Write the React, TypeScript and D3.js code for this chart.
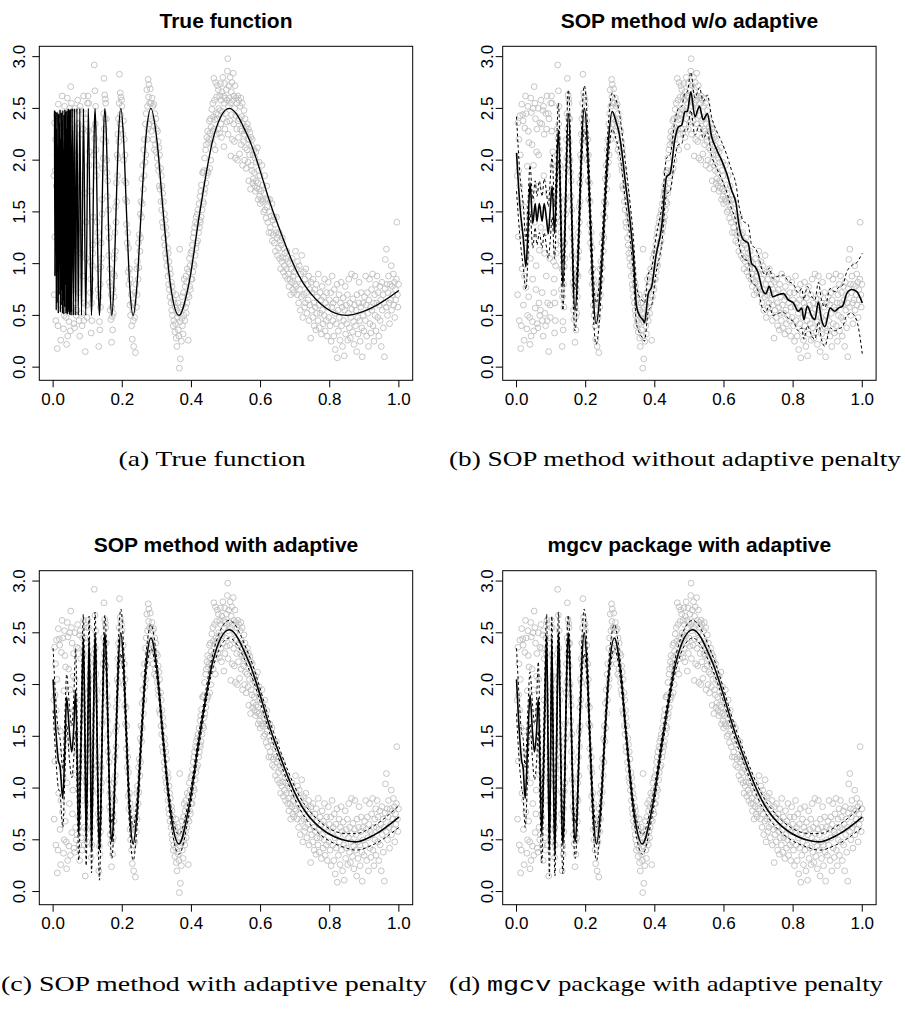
import React from 'react'
import * as d3 from 'd3'

// observed data (same sample in all four panels)
const obs: [number, number][] = [
  [0.002,1.85],[0.003,0.70],[0.004,2.36],[0.005,1.26],[0.006,1.90],[0.007,2.20],[0.008,0.45],[0.009,1.75],[0.010,2.43],[0.011,2.05],
  [0.012,0.18],[0.013,1.58],[0.014,0.40],[0.015,2.54],[0.016,0.95],[0.017,1.35],[0.018,2.44],[0.019,2.38],[0.020,0.60],[0.021,1.55],
  [0.022,0.26],[0.023,0.88],[0.024,2.31],[0.025,1.20],[0.026,2.62],[0.027,0.77],[0.028,2.45],[0.029,1.10],[0.030,0.37],[0.031,1.94],
  [0.032,0.50],[0.033,2.52],[0.034,2.28],[0.035,0.68],[0.036,2.17],[0.037,1.48],[0.038,0.48],[0.039,0.22],[0.040,1.05],[0.041,2.60],
  [0.042,0.30],[0.043,2.46],[0.044,1.62],[0.045,2.15],[0.046,0.44],[0.047,0.85],[0.048,2.50],[0.049,1.95],[0.050,0.35],[0.051,2.71],
  [0.052,1.40],[0.053,2.55],[0.054,0.57],[0.055,2.40],[0.056,0.75],[0.057,0.98],[0.058,2.08],[0.059,2.30],[0.060,0.42],[0.061,1.75],
  [0.062,0.38],[0.063,2.50],[0.064,2.05],[0.065,0.62],[0.066,1.13],[0.067,0.50],[0.068,2.36],[0.069,0.55],[0.070,1.35],[0.071,2.58],
  [0.072,1.52],[0.073,2.35],[0.074,0.72],[0.075,0.45],[0.076,2.48],[0.077,0.30],[0.078,2.52],[0.079,1.85],[0.080,2.25],[0.081,1.10],
  [0.082,0.52],[0.083,1.30],[0.084,0.40],[0.085,2.45],[0.086,0.88],[0.087,2.30],[0.088,2.62],[0.089,0.45],[0.090,0.62],[0.091,1.68],
  [0.092,2.45],[0.093,0.15],[0.094,2.40],[0.095,1.40],[0.096,1.05],[0.097,0.60],[0.098,0.48],[0.099,2.55],
  [0.101,2.62],[0.102,2.28],[0.103,2.55],[0.104,1.95],[0.105,2.08],[0.106,1.70],[0.107,1.02],[0.108,0.72],[0.109,0.85],[0.110,0.33],
  [0.111,0.62],[0.112,0.45],[0.113,0.98],[0.114,1.18],[0.115,1.10],[0.116,1.45],[0.117,2.05],[0.118,2.30],[0.119,2.92],[0.120,2.21],
  [0.121,2.67],[0.122,2.35],[0.123,2.52],[0.124,2.10],[0.125,1.85],[0.126,1.95],[0.127,1.40],[0.128,1.22],[0.129,1.30],[0.130,0.75],
  [0.131,0.95],[0.132,0.20],[0.133,0.68],[0.134,0.44],[0.135,0.36],[0.136,0.80],[0.137,0.58],[0.138,0.97],[0.139,1.20],[0.140,1.05],
  [0.141,1.62],[0.142,1.48],[0.143,1.92],[0.144,2.20],[0.145,2.02],[0.146,2.45],[0.147,2.79],[0.148,2.30],[0.149,2.63],[0.150,2.40],
  [0.151,2.59],[0.152,2.55],[0.153,2.18],[0.154,2.40],[0.155,2.00],[0.156,1.88],[0.157,1.65],[0.158,1.80],[0.159,1.35],[0.160,1.52],
  [0.161,1.08],[0.162,1.25],[0.163,0.82],[0.164,0.95],[0.165,0.55],[0.166,0.78],[0.167,0.46],[0.168,0.70],[0.169,0.24],[0.170,0.58],
  [0.171,0.49],[0.172,0.36],[0.173,0.75],[0.174,0.52],[0.175,0.90],[0.176,0.68],[0.177,1.05],[0.178,0.88],[0.179,1.30],[0.180,1.12],
  [0.181,1.55],[0.182,1.40],[0.183,1.78],[0.184,1.60],[0.185,2.05],[0.186,1.85],[0.187,2.25],[0.188,2.02],[0.189,2.40],[0.190,2.18],
  [0.191,2.55],[0.192,2.83],[0.193,2.35],[0.194,2.65],[0.195,2.44],[0.196,2.61],[0.197,2.30],[0.198,2.58],[0.199,2.52],
  [0.201,2.25],[0.203,2.38],[0.204,2.00],[0.206,2.20],[0.207,1.80],[0.208,2.05],[0.209,1.62],[0.211,1.78],[0.212,1.38],[0.213,1.60],
  [0.214,1.20],[0.216,1.30],[0.217,0.92],[0.218,1.15],[0.219,0.80],[0.221,0.95],[0.222,0.60],[0.223,0.85],[0.224,0.50],[0.226,0.70],
  [0.227,0.40],[0.228,0.62],[0.229,0.27],[0.231,0.55],[0.232,0.45],[0.233,0.20],[0.234,0.62],[0.236,0.48],[0.237,0.72],[0.238,0.14],
  [0.239,0.80],[0.241,0.58],[0.242,0.95],[0.243,0.70],[0.244,1.02],[0.246,0.85],[0.247,1.20],[0.248,0.96],[0.249,1.28],[0.251,1.12],
  [0.252,1.48],[0.253,1.25],[0.254,1.60],[0.256,1.45],[0.257,1.82],[0.258,1.58],[0.259,1.95],[0.261,1.72],[0.262,2.10],[0.263,1.85],
  [0.264,2.20],[0.266,1.98],[0.267,2.35],[0.268,2.05],[0.269,2.45],[0.271,2.68],[0.272,2.20],[0.273,2.52],[0.274,2.30],[0.275,2.78],
  [0.276,2.61],[0.277,2.73],[0.278,2.35],[0.279,2.55],[0.281,2.69],[0.282,2.40],[0.283,2.55],[0.284,2.28],[0.286,2.60],[0.287,2.38],
  [0.288,2.52],[0.289,2.20],[0.291,2.54],[0.292,2.33],[0.293,2.10],[0.294,2.45],[0.296,2.15],[0.297,2.40],[0.298,2.08],[0.299,2.30],
  [0.301,2.02],[0.302,2.28],[0.303,1.95],[0.304,2.18],[0.305,1.90],[0.306,2.12],[0.307,1.75],[0.308,2.05],[0.309,1.72],[0.311,1.92],
  [0.312,1.60],[0.313,1.85],[0.314,1.52],[0.315,1.75],[0.316,1.40],[0.317,1.68],[0.318,1.35],[0.319,1.60],[0.321,1.25],[0.322,1.48],
  [0.323,1.18],[0.324,1.42],[0.325,1.10],[0.326,1.35],[0.327,1.05],[0.328,1.28],[0.329,0.98],[0.331,1.15],[0.332,0.88],[0.333,1.10],
  [0.334,0.80],[0.335,1.02],[0.336,0.75],[0.337,0.95],[0.338,0.68],[0.339,0.90],[0.341,0.62],[0.342,0.82],[0.343,0.55],[0.344,0.78],
  [0.345,0.50],[0.346,0.72],[0.347,0.40],[0.348,0.65],[0.349,0.45],[0.351,0.62],[0.352,0.34],[0.353,0.58],[0.354,0.42],[0.355,0.70],
  [0.356,0.28],[0.357,0.55],[0.358,0.20],[0.359,0.48],[0.361,0.62],[0.362,0.36],[0.363,0.52],[0.364,0.30],[0.365,-0.01],[0.366,1.14],
  [0.367,0.44],[0.368,0.08],[0.369,0.58],[0.371,0.25],[0.372,0.47],[0.373,0.68],[0.374,0.40],[0.375,0.60],[0.376,0.32],[0.377,0.72],
  [0.378,0.50],[0.379,0.85],[0.381,0.45],[0.382,0.78],[0.383,0.58],[0.384,0.88],[0.385,0.52],[0.386,0.82],[0.387,0.62],[0.388,0.95],
  [0.389,0.70],[0.391,0.26],[0.392,0.92],[0.393,0.68],[0.394,1.05],[0.395,0.78],[0.396,0.98],[0.397,0.75],[0.398,1.10],[0.399,0.85],
  [0.401,1.12],[0.402,0.85],[0.403,1.18],[0.404,0.92],[0.405,1.25],[0.406,1.00],[0.407,1.30],[0.408,0.98],[0.409,1.35],[0.411,1.08],
  [0.412,1.40],[0.413,1.15],[0.414,1.45],[0.415,1.20],[0.416,1.38],[0.417,1.48],[0.418,1.22],[0.419,1.52],[0.421,1.30],[0.422,1.58],
  [0.423,1.35],[0.424,1.42],[0.425,1.65],[0.426,1.40],[0.427,1.70],[0.428,1.45],[0.429,1.76],[0.431,1.52],[0.432,1.88],[0.433,1.60],
  [0.434,1.88],[0.435,1.58],[0.436,1.90],[0.437,1.68],[0.438,2.02],[0.439,1.72],[0.441,2.10],[0.442,1.78],[0.443,2.15],[0.444,1.85],
  [0.445,2.22],[0.446,1.90],[0.447,2.28],[0.448,1.88],[0.449,2.17],[0.451,2.20],[0.452,2.38],[0.453,1.92],[0.454,2.26],[0.455,2.40],
  [0.456,2.00],[0.457,2.32],[0.458,2.20],[0.459,2.49],[0.461,2.28],[0.462,2.55],[0.463,2.15],[0.464,2.42],[0.465,2.79],[0.466,2.30],
  [0.467,2.58],[0.468,2.39],[0.469,2.10],[0.470,2.75],[0.471,2.45],[0.472,2.25],[0.473,2.61],[0.474,2.40],[0.475,2.72],[0.476,2.44],
  [0.477,2.30],[0.478,2.68],[0.479,2.50],[0.481,2.26],[0.482,2.62],[0.483,2.48],[0.484,2.74],[0.485,2.35],[0.486,2.58],[0.487,2.22],
  [0.488,2.66],[0.489,2.47],[0.491,2.80],[0.492,2.40],[0.493,2.62],[0.494,2.13],[0.495,2.55],[0.496,2.74],[0.497,2.30],[0.498,2.60],
  [0.499,2.45],
  [0.501,2.68],[0.502,2.37],[0.503,2.58],[0.504,2.86],[0.505,2.98],[0.506,2.25],[0.507,2.52],[0.508,2.72],[0.509,2.60],[0.511,2.38],
  [0.512,2.80],[0.513,2.55],[0.514,2.04],[0.515,2.66],[0.516,2.44],[0.517,2.75],[0.518,2.20],[0.519,2.58],[0.521,2.84],[0.522,2.35],
  [0.523,2.62],[0.524,2.18],[0.525,2.50],[0.526,2.72],[0.527,2.02],[0.528,2.43],[0.529,2.60],[0.531,2.30],[0.532,2.55],[0.533,2.00],
  [0.534,2.62],[0.535,2.38],[0.536,2.22],[0.537,2.58],[0.538,2.40],[0.539,2.06],[0.541,2.52],[0.542,2.30],[0.543,2.60],[0.544,2.15],
  [0.545,2.42],[0.546,2.28],[0.547,2.55],[0.548,1.95],[0.549,2.35],[0.551,2.18],[0.552,2.48],[0.553,2.25],[0.554,2.00],[0.555,2.40],
  [0.556,2.12],[0.557,2.32],[0.558,1.92],[0.559,2.28],[0.561,2.10],[0.562,2.35],[0.563,2.20],[0.564,1.98],[0.565,2.30],[0.566,1.80],
  [0.567,2.20],[0.568,2.05],[0.569,2.27],[0.571,1.72],[0.572,2.22],[0.573,1.95],[0.574,2.14],[0.575,1.90],[0.576,2.20],[0.577,1.78],
  [0.578,2.05],[0.579,1.82],[0.581,2.10],[0.582,1.88],[0.583,1.75],[0.584,2.02],[0.585,1.70],[0.586,2.08],[0.587,1.80],[0.588,1.98],
  [0.589,1.73],[0.591,2.12],[0.592,1.78],[0.593,1.62],[0.594,1.90],[0.595,1.72],[0.596,1.98],[0.597,1.65],[0.598,1.85],[0.599,1.58],
  [0.601,1.70],[0.603,1.62],[0.604,1.95],[0.606,1.60],[0.607,1.76],[0.609,1.50],[0.610,1.68],[0.612,1.85],[0.613,1.52],[0.615,1.62],
  [0.616,1.44],[0.618,1.75],[0.619,1.55],[0.621,1.40],[0.622,1.62],[0.624,1.30],[0.625,1.50],[0.627,1.62],[0.628,1.35],[0.630,1.46],
  [0.631,1.30],[0.633,1.58],[0.634,1.22],[0.636,1.42],[0.637,1.28],[0.639,1.45],[0.640,1.20],[0.642,1.38],[0.643,1.12],[0.645,1.30],
  [0.646,1.45],[0.648,1.25],[0.649,1.08],[0.651,1.28],[0.652,1.15],[0.654,1.30],[0.655,1.05],[0.657,1.22],[0.658,0.95],[0.660,1.18],
  [0.661,1.02],[0.663,1.25],[0.664,1.06],[0.666,0.92],[0.667,1.15],[0.669,0.98],[0.670,1.10],[0.672,0.88],[0.673,1.05],[0.675,0.95],
  [0.676,1.12],[0.678,0.85],[0.679,1.02],[0.681,0.90],[0.682,0.78],[0.684,1.00],[0.685,0.85],[0.687,0.70],[0.688,0.95],[0.690,0.82],
  [0.691,1.05],[0.693,0.75],[0.694,0.88],[0.696,0.72],[0.697,0.92],[0.699,0.80],
  [0.701,1.12],[0.703,0.78],[0.704,0.95],[0.706,0.70],[0.707,1.02],[0.709,0.85],[0.710,0.62],[0.712,0.98],[0.713,0.75],[0.715,0.55],
  [0.716,0.90],[0.718,0.68],[0.719,1.08],[0.721,0.80],[0.722,0.48],[0.724,0.92],[0.725,0.70],[0.727,0.58],[0.728,0.85],[0.730,0.62],
  [0.731,0.95],[0.733,0.72],[0.734,0.52],[0.736,0.80],[0.737,0.65],[0.739,0.88],[0.740,0.45],[0.742,0.75],[0.743,0.60],[0.745,0.28],
  [0.746,0.82],[0.748,0.55],[0.749,0.72],[0.751,0.48],[0.752,0.85],[0.754,0.62],[0.755,0.40],[0.757,0.75],[0.758,0.58],[0.760,0.36],
  [0.761,0.80],[0.763,0.52],[0.764,0.68],[0.766,0.45],[0.767,0.90],[0.769,0.60],[0.770,0.38],[0.772,0.72],[0.773,0.52],[0.775,0.65],
  [0.776,0.32],[0.778,0.78],[0.779,0.55],[0.781,0.42],[0.782,0.68],[0.784,0.50],[0.785,0.85],[0.787,0.35],[0.788,0.62],[0.790,0.45],
  [0.791,0.72],[0.793,0.30],[0.794,0.58],[0.796,0.82],[0.797,0.48],[0.799,0.65],
  [0.801,0.40],[0.803,0.72],[0.804,0.25],[0.806,0.58],[0.807,0.88],[0.809,0.45],[0.810,0.62],[0.812,0.30],[0.813,0.75],[0.815,0.52],
  [0.816,0.17],[0.818,0.65],[0.819,0.42],[0.821,0.80],[0.822,0.09],[0.824,0.55],[0.825,0.35],[0.827,0.70],[0.828,0.48],[0.830,0.26],
  [0.831,0.62],[0.833,0.82],[0.834,0.40],[0.836,0.58],[0.837,0.20],[0.839,0.67],[0.840,0.45],[0.842,0.11],[0.843,0.55],[0.845,0.78],
  [0.846,0.32],[0.848,0.60],[0.849,0.42],[0.851,0.70],[0.852,0.26],[0.854,0.52],[0.855,0.85],[0.857,0.38],[0.858,0.62],[0.860,0.28],
  [0.861,0.48],[0.863,0.90],[0.864,0.56],[0.866,0.34],[0.867,0.66],[0.869,0.44],[0.870,0.22],[0.872,0.60],[0.873,0.88],[0.875,0.40],
  [0.876,0.55],[0.878,0.15],[0.879,0.70],[0.881,0.48],[0.882,0.32],[0.884,0.62],[0.885,0.82],[0.887,0.45],[0.888,0.25],[0.890,0.58],
  [0.891,0.72],[0.893,0.38],[0.894,0.10],[0.896,0.62],[0.897,0.50],[0.899,0.35],
  [0.901,0.68],[0.903,0.45],[0.904,0.88],[0.906,0.60],[0.907,0.30],[0.909,0.72],[0.910,0.52],[0.912,0.20],[0.913,0.65],[0.915,0.85],
  [0.916,0.42],[0.918,0.58],[0.919,0.33],[0.921,0.75],[0.922,0.55],[0.924,0.90],[0.925,0.40],[0.927,0.62],[0.928,0.25],[0.930,0.70],
  [0.931,0.50],[0.933,0.80],[0.934,0.35],[0.936,0.62],[0.937,0.88],[0.939,0.48],[0.940,0.72],[0.942,0.30],[0.943,0.60],[0.945,0.78],
  [0.946,0.45],[0.948,0.65],[0.949,0.20],[0.951,0.82],[0.952,0.55],[0.954,0.70],[0.955,0.38],[0.957,0.62],[0.958,0.10],[0.960,0.76],
  [0.961,1.04],[0.963,0.58],[0.964,1.14],[0.966,0.80],[0.967,0.50],[0.969,0.72],[0.970,0.88],[0.972,0.62],[0.973,0.42],[0.975,0.80],
  [0.976,0.65],[0.978,0.98],[0.979,0.55],[0.981,0.78],[0.982,0.70],[0.984,0.90],[0.985,0.60],[0.987,0.82],[0.988,0.48],[0.990,0.75],
  [0.991,0.65],[0.993,0.85],[0.994,1.40],[0.996,0.70],[0.997,0.58],[0.999,0.80],
]

// true function as drawn in panel (a)
const truth: [number, number][] = [
  [0.004,2.48],[0.005,0.88],[0.006,2.42],[0.007,1.20],[0.008,2.47],[0.009,0.55],[0.010,2.30],[0.011,0.62],[0.012,2.46],[0.013,0.95],
  [0.014,2.12],[0.015,0.52],[0.016,2.45],[0.017,0.70],[0.018,2.35],[0.019,1.45],[0.020,2.49],[0.021,0.53],[0.022,2.20],[0.023,0.60],
  [0.024,2.46],[0.025,0.75],[0.026,2.38],[0.027,0.52],[0.028,2.48],[0.029,0.65],[0.030,2.10],[0.031,0.51],[0.032,2.44],[0.033,0.58],
  [0.034,2.49],[0.035,0.80],[0.036,2.47],[0.037,0.52],[0.038,2.30],[0.039,0.55],[0.040,2.48],[0.041,0.51],[0.042,2.42],[0.043,0.53],
  [0.044,2.50],[0.045,0.56],[0.046,2.49],[0.047,0.51],[0.048,2.47],[0.049,0.50],[0.050,2.49],[0.051,0.53],[0.052,2.50],[0.054,0.50],
  [0.0566,2.50],[0.0592,0.50],[0.0621,2.50],[0.0653,0.50],[0.0688,2.50],[0.0728,0.50],[0.0772,2.50],[0.0821,0.50],[0.0878,2.50],
  [0.0943,0.50],[0.1019,2.50],[0.1061,1.50],[0.1107,0.50],[0.1132,0.79],[0.1157,1.50],[0.1184,2.21],[0.1213,2.50],[0.1242,2.21],
  [0.1273,1.50],[0.1306,0.79],[0.1340,0.50],[0.1376,0.79],[0.1415,1.50],[0.1455,2.21],[0.1498,2.50],[0.1543,2.21],[0.1592,1.50],
  [0.1643,0.79],[0.1698,0.50],[0.1756,0.79],[0.1819,1.50],[0.1886,2.21],[0.1959,2.50],[0.2037,2.21],[0.2122,1.50],[0.2214,0.79],
  [0.2315,0.50],[0.2425,0.79],[0.2546,1.50],[0.2681,2.21],[0.2829,2.50],[0.2996,2.21],[0.3183,1.50],[0.3395,0.79],[0.3638,0.50],
  [0.3918,0.79],[0.4244,1.50],[0.4630,2.21],[0.5093,2.50],[0.5659,2.21],[0.6366,1.50],[0.7276,0.79],[0.8488,0.50],[0.92,0.57],[1.0,0.74],
]

// SOP fit without adaptive penalty
const sopX = [0,0.010,0.020,0.027,0.032,0.039,0.047,0.054,0.059,0.066,0.074,0.080,0.087,0.092,0.097,0.103,0.110,0.121,0.134,0.150,
  0.169,0.196,0.230,0.277,0.288,0.295,0.304,0.314,0.328,0.338,0.347,0.357,0.365,0.370,0.381,0.391,0.403,0.420,0.434,0.444,
  0.458,0.468,0.478,0.487,0.494,0.504,0.516,0.529,0.540,0.552,0.564,0.579,0.593,0.608,0.622,0.635,0.644,0.656,0.670,0.680,
  0.690,0.699,0.711,0.721,0.731,0.741,0.757,0.772,0.786,0.801,0.815,0.825,0.831,0.841,0.854,0.863,0.873,0.882,0.892,0.907,
  0.921,0.931,0.943,0.955,0.969,0.984,1.0]
const sopFit = [2.07,1.55,1.23,0.97,1.23,1.78,1.39,1.58,1.41,1.58,1.41,1.58,1.42,1.29,1.50,1.75,1.29,2.29,0.78,2.45,
  0.55,2.50,0.42,2.47,2.37,2.29,2.10,1.81,1.42,1.07,0.59,0.49,0.46,0.43,0.71,0.78,1.07,1.36,1.84,1.87,
  2.20,2.32,2.34,2.47,2.47,2.66,2.42,2.52,2.39,2.45,2.23,2.10,2.00,1.87,1.71,1.58,1.36,1.23,1.20,1.00,
  0.97,0.91,0.75,0.71,0.78,0.68,0.70,0.71,0.65,0.62,0.54,0.57,0.46,0.59,0.49,0.46,0.63,0.46,0.39,0.57,
  0.54,0.57,0.59,0.71,0.75,0.73,0.62]
const sopLo = [1.70,1.25,0.95,0.75,0.98,1.50,1.15,1.35,1.18,1.30,1.15,1.30,1.15,1.05,1.20,1.45,1.05,2.00,0.55,2.25,
  0.35,2.30,0.22,2.30,2.20,2.12,1.93,1.63,1.25,0.90,0.42,0.32,0.28,0.25,0.54,0.60,0.90,1.19,1.67,1.70,
  2.02,2.15,2.16,2.30,2.29,2.48,2.24,2.34,2.21,2.27,2.05,1.92,1.82,1.69,1.53,1.40,1.18,1.05,1.02,0.82,
  0.79,0.73,0.57,0.53,0.60,0.50,0.52,0.53,0.47,0.44,0.35,0.38,0.27,0.40,0.30,0.27,0.44,0.27,0.20,0.38,
  0.35,0.37,0.39,0.50,0.52,0.45,0.13]
const sopHi = [2.42,1.85,1.55,1.22,1.50,1.95,1.62,1.80,1.65,1.80,1.65,1.82,1.68,1.55,1.78,2.05,1.55,2.55,1.00,2.68,
  0.75,2.72,0.62,2.65,2.58,2.50,2.30,2.00,1.60,1.25,0.78,0.67,0.64,0.62,0.90,0.96,1.25,1.55,2.02,2.05,
  2.38,2.50,2.52,2.65,2.66,2.85,2.60,2.70,2.57,2.63,2.42,2.28,2.18,2.05,1.90,1.76,1.55,1.41,1.38,1.18,
  1.15,1.09,0.93,0.89,0.96,0.86,0.88,0.89,0.83,0.80,0.72,0.76,0.65,0.78,0.68,0.65,0.82,0.65,0.58,0.76,
  0.73,0.77,0.79,0.92,0.98,1.01,1.10]

// SOP fit with adaptive penalty
const adaX = [0,0.008,0.015,0.020,0.028,0.034,0.039,0.047,0.054,0.060,0.065,0.070,0.074,0.081,0.0875,0.092,0.0955,0.100,0.104,0.108,
  0.111,0.116,0.1213,0.1242,0.1273,0.1306,0.134,0.1376,0.1415,0.1455,0.1498,0.1543,0.1592,0.1643,0.1698,0.1756,0.1819,0.1886,0.1959,0.2037,
  0.2122,0.2214,0.2315,0.2425,0.2546,0.2681,0.2829,0.2996,0.3183,0.3395,0.3638,0.3918,0.4244,0.463,0.5093,0.5659,0.6366,0.7276,0.8488,0.875,
  0.93,1.0]
const adaFit = [2.05,1.55,1.27,1.21,0.90,1.40,1.88,1.55,1.35,1.60,1.95,1.20,0.55,1.50,2.45,1.50,0.50,1.45,2.45,1.40,
  0.40,1.45,2.50,2.17,1.45,0.74,0.40,0.74,1.47,2.18,2.50,2.19,1.49,0.78,0.48,0.78,1.49,2.20,2.50,2.19,
  1.48,0.77,0.46,0.76,1.46,2.16,2.45,2.16,1.47,0.77,0.46,0.80,1.52,2.24,2.53,2.22,1.49,0.78,0.49,0.48,
  0.55,0.72]
const adaLo = [1.75,1.28,1.00,0.95,0.62,1.12,1.62,1.28,1.10,1.30,1.55,0.85,0.30,1.20,2.20,1.22,0.25,1.18,2.20,1.12,
  0.18,1.18,2.28,1.95,1.22,0.48,0.11,0.50,1.25,1.98,2.32,2.00,1.30,0.60,0.32,0.62,1.32,2.02,2.30,2.02,
  1.32,0.62,0.30,0.62,1.34,2.05,2.35,2.07,1.39,0.69,0.36,0.72,1.45,2.17,2.45,2.15,1.43,0.72,0.42,0.40,
  0.46,0.62]
const adaHi = [2.35,1.82,1.55,1.48,1.18,1.68,2.10,1.80,1.60,1.90,2.35,1.55,0.85,1.80,2.68,1.78,0.78,1.72,2.66,1.68,
  0.65,1.72,2.70,2.40,1.70,1.00,0.60,0.98,1.70,2.38,2.67,2.38,1.68,0.96,0.66,0.95,1.67,2.40,2.73,2.38,
  1.65,0.93,0.62,0.90,1.58,2.27,2.58,2.25,1.55,0.85,0.55,0.88,1.59,2.31,2.62,2.29,1.55,0.84,0.56,0.56,
  0.64,0.83]

// mgcv fit with adaptive smoother
const mgcvX = [0,0.008,0.015,0.019,0.025,0.032,0.039,0.046,0.052,0.058,0.063,0.068,0.073,0.080,0.087,0.091,0.095,0.099,0.102,0.106,
  0.111,0.116,0.1213,0.1242,0.1273,0.1306,0.134,0.1376,0.1415,0.1455,0.1498,0.1543,0.1592,0.1643,0.1698,0.1756,0.1819,0.1886,0.1959,0.2037,
  0.2122,0.2214,0.2315,0.2425,0.2546,0.2681,0.2829,0.2996,0.3183,0.3395,0.3638,0.3918,0.4244,0.463,0.5093,0.5659,0.6366,0.7276,0.8488,0.875,
  0.93,1.0]
const mgcvFit = [2.05,1.55,1.26,1.20,0.90,1.40,1.90,1.55,1.35,1.55,1.87,1.20,0.55,1.50,2.47,1.45,0.40,1.45,2.45,1.40,
  0.35,1.45,2.50,2.17,1.45,0.76,0.45,0.76,1.47,2.18,2.50,2.19,1.49,0.78,0.48,0.78,1.49,2.20,2.50,2.19,
  1.48,0.77,0.46,0.76,1.46,2.16,2.45,2.16,1.47,0.77,0.46,0.80,1.52,2.24,2.53,2.22,1.49,0.78,0.49,0.48,
  0.55,0.72]
const mgcvLo = [1.72,1.25,1.00,0.92,0.62,1.10,1.62,1.28,1.08,1.25,1.55,0.85,0.28,1.20,2.22,1.15,0.15,1.15,2.20,1.10,
  0.15,1.18,2.28,1.95,1.22,0.50,0.17,0.52,1.25,1.98,2.32,2.00,1.30,0.60,0.32,0.62,1.32,2.02,2.30,2.02,
  1.32,0.62,0.30,0.62,1.34,2.05,2.35,2.07,1.39,0.69,0.36,0.72,1.45,2.17,2.45,2.15,1.43,0.72,0.42,0.40,
  0.46,0.62]
const mgcvHi = [2.35,1.85,1.52,1.48,1.20,1.70,2.12,1.82,1.62,1.85,2.22,1.55,0.85,1.80,2.68,1.75,0.65,1.75,2.66,1.70,
  0.60,1.72,2.70,2.40,1.70,1.02,0.68,1.00,1.70,2.38,2.67,2.38,1.68,0.96,0.66,0.95,1.67,2.40,2.73,2.38,
  1.65,0.93,0.62,0.90,1.58,2.27,2.58,2.25,1.55,0.85,0.55,0.88,1.59,2.31,2.62,2.29,1.55,0.84,0.56,0.56,
  0.64,0.83]

const xTicks = [0, 0.2, 0.4, 0.6, 0.8, 1.0]
const yTicks = [0, 0.5, 1.0, 1.5, 2.0, 2.5, 3.0]
const titles = ['True function', 'SOP method w/o adaptive', 'SOP method with adaptive', 'mgcv package with adaptive']

const BOX_W = 373.4
const BOX_H = 334
const SANS = '"Liberation Sans", Arial, Helvetica, sans-serif'
const SERIF = '"Liberation Serif", "DejaVu Serif", "Times New Roman", serif'

const zip = (xs: number[], ys: number[]) => xs.map((v, i) => [v, ys[i]] as [number, number])

type Series = { pts: [number, number][]; dash?: boolean; w: number }

function Panel({ id, left, top, title, gap, series }: { id: string; left: number; top: number; title: string; gap: number; series: Series[] }) {
  const x = d3.scaleLinear().domain([-0.04, 1.04]).range([left, left + BOX_W])
  const y = d3.scaleLinear().domain([-0.127, 3.1]).range([top + BOX_H, top])
  const line = d3
    .line<[number, number]>()
    .x((d) => x(d[0]))
    .y((d) => y(d[1]))
    .curve(d3.curveMonotoneX)
  const fmt = d3.format('.1f')
  const bottom = top + BOX_H

  return (
    <g>
      <defs>
        <clipPath id={`clip-${id}`}>
          <rect x={left} y={top} width={BOX_W} height={BOX_H} />
        </clipPath>
      </defs>
      <g clipPath={`url(#clip-${id})`}>
        {obs.map((d, i) => (
          <circle key={i} cx={x(d[0])} cy={y(d[1])} r={2.9} fill="none" stroke="#bebebe" strokeWidth={0.9} />
        ))}
        {series.map((s, i) => (
          <path
            key={i}
            d={line(s.pts) || ''}
            fill="none"
            stroke="#000"
            strokeWidth={s.w}
            strokeDasharray={s.dash ? '3,2.6' : undefined}
          />
        ))}
      </g>
      <rect x={left} y={top} width={BOX_W} height={BOX_H} fill="none" stroke="#000" strokeWidth={1} />

      {xTicks.map((t) => (
        <g key={t}>
          <line x1={x(t)} x2={x(t)} y1={bottom} y2={bottom + 7} stroke="#000" />
          <text x={x(t)} y={bottom + 24.5} textAnchor="middle" fontSize={17} fontFamily={SANS}>
            {fmt(t)}
          </text>
        </g>
      ))}
      {yTicks.map((t) => (
        <g key={t}>
          <line x1={left - 7} x2={left} y1={y(t)} y2={y(t)} stroke="#000" />
          <text transform={`translate(${left - gap},${y(t)}) rotate(-90)`} textAnchor="middle" fontSize={17} fontFamily={SANS}>
            {fmt(t)}
          </text>
        </g>
      ))}
      <text x={left + BOX_W / 2} y={top - 18.5} textAnchor="middle" fontSize={21} fontWeight="bold" fontFamily={SANS}>
        {title}
      </text>
    </g>
  )
}

export default function App() {
  const bands = (xs: number[], fit: number[], lo: number[], hi: number[]): Series[] => [
    { pts: zip(xs, lo), dash: true, w: 1 },
    { pts: zip(xs, hi), dash: true, w: 1 },
    { pts: zip(xs, fit), w: 1.6 },
  ]

  return (
    <div style={{ position: 'absolute', left: 0, top: 0 }}>
      <svg width={905} height={1015} style={{ display: 'block', background: '#fff' }}>
        <Panel id="a" left={39.3} top={46.3} title={titles[0]} gap={14} series={[{ pts: truth, w: 1.35 }]} />
        <Panel id="b" left={502.7} top={46.3} title={titles[1]} gap={10} series={bands(sopX, sopFit, sopLo, sopHi)} />
        <Panel id="c" left={39.3} top={570.7} title={titles[2]} gap={14} series={bands(adaX, adaFit, adaLo, adaHi)} />
        <Panel id="d" left={502.7} top={570.7} title={titles[3]} gap={10} series={bands(mgcvX, mgcvFit, mgcvLo, mgcvHi)} />

        <text x={212} y={466} textAnchor="middle" fontSize={21} fontFamily={SERIF} textLength={187} lengthAdjust="spacingAndGlyphs">
          (a) True function
        </text>
        <text x={675} y={466} textAnchor="middle" fontSize={21} fontFamily={SERIF} textLength={452} lengthAdjust="spacingAndGlyphs">
          (b) SOP method without adaptive penalty
        </text>
        <text x={214} y={991} textAnchor="middle" fontSize={21} fontFamily={SERIF} textLength={426} lengthAdjust="spacingAndGlyphs">
          (c) SOP method with adaptive penalty
        </text>
        <text x={666} y={991} textAnchor="middle" fontSize={21} fontFamily={SERIF} textLength={434} lengthAdjust="spacingAndGlyphs">
          (d) <tspan fontFamily='"Liberation Mono", "DejaVu Sans Mono", monospace'>mgcv</tspan> package with adaptive penalty
        </text>
      </svg>
    </div>
  )
}
